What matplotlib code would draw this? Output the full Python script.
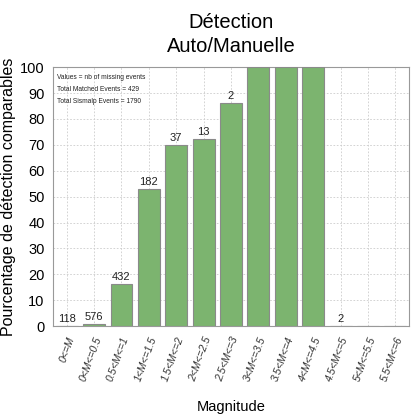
import matplotlib
matplotlib.use("Agg")
import matplotlib.pyplot as plt
import numpy as np

plt.rcParams['font.family'] = ['Liberation Sans', 'DejaVu Sans']

categories = ["0<=M", "0<M<=0.5", "0.5<M<=1", "1<M<=1.5", "1.5<M<=2", "2<M<=2.5",
              "2.5<M<=3", "3<M<=3.5", "3.5<M<=4", "4<M<=4.5", "4.5<M<=5", "5<M<=5.5", "5.5<M<=6"]
percent = [0, 0.7, 16.2, 52.8, 69.8, 72.1, 86.0, 100, 100, 100, 0, 0, 0]
missing = ["118", "576", "432", "182", "37", "13", "2", "", "", "", "2", "", ""]
info_lines = ["Values = nb of missing events",
              "Total Matched Events = 429",
              "Total Sismalp Events = 1790"]

fig = plt.figure(figsize=(4.14, 4.17), dpi=100)
ax = fig.add_axes([0.128, 0.218, 0.860, 0.621])

x = np.arange(len(categories))
ax.bar(x, percent, width=0.8, color='#7cb46f', edgecolor='#8a8a8a', linewidth=0.8, zorder=3)
for xi, v, lab in zip(x, percent, missing):
    if lab:
        ax.text(xi, v + 0.8, lab, ha='center', va='bottom', fontsize=8, color='#222222', zorder=4)

ax.set_xlim(-0.5, len(categories) - 0.5)
ax.set_ylim(0, 100)
ax.set_yticks(np.arange(0, 101, 10))
ax.set_xticks(x)
ax.set_xticklabels(categories, rotation=70, ha='right', rotation_mode='anchor',
                   fontsize=7.5, style='italic', color='#333333')
ax.tick_params(axis='y', labelsize=10.5, length=0, pad=6)
ax.tick_params(axis='x', length=0, pad=7)
ax.grid(True, color='#cccccc', linestyle=(0, (2, 2)), linewidth=0.6, zorder=0)
for s in ax.spines.values():
    s.set_color('#999999')
    s.set_linewidth(0.8)

ax.set_ylabel("Pourcentage de détection comparables", fontsize=11.5, labelpad=3)
ax.set_xlabel("Magnitude", fontsize=10.5, labelpad=12)
ax.set_title("Détection\nAuto/Manuelle", fontsize=14.5, pad=11, linespacing=1.3)

for i, line in enumerate(info_lines):
    ax.text(0.012, 0.96 - i * 0.047, line, transform=ax.transAxes, fontsize=4.8,
            ha='left', va='center', color='#222222', zorder=5)

fig.savefig("out.png", dpi=100)
